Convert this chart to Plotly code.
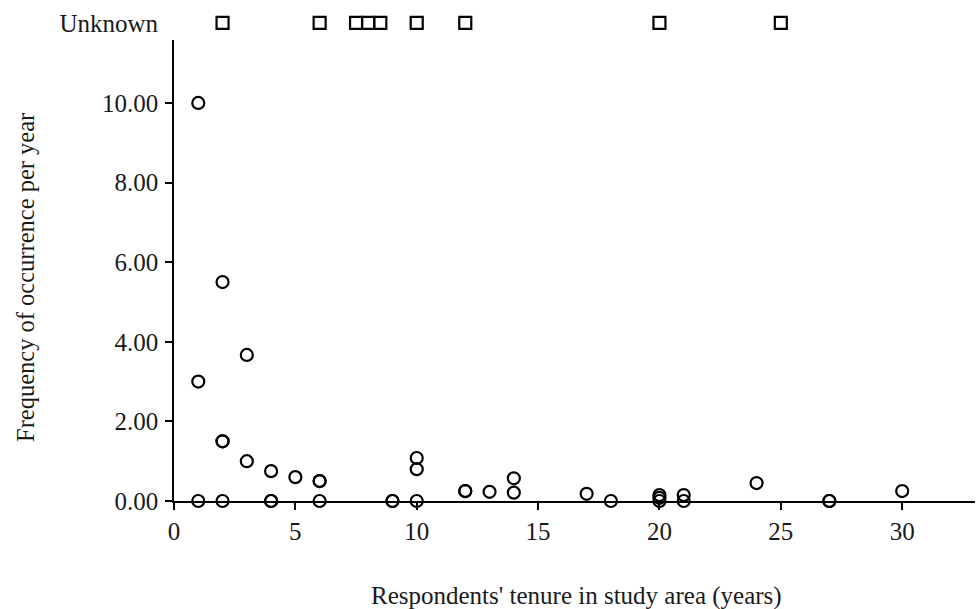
import plotly.graph_objects as go

# Known-tenure respondents
tenure_years = [1, 1, 1, 2, 2, 2, 2, 3, 3, 4, 4, 4, 5, 6, 6, 6,
                9, 9, 10, 10, 10, 12, 12, 13, 14, 14,
                17, 18, 20, 20, 20, 21, 21, 24, 27, 27, 30]
freq_per_year = [10.0, 3.0, 0.0, 5.5, 1.5, 1.5, 0.0, 3.67, 1.0, 0.75, 0.0, 0.0, 0.6, 0.5, 0.5, 0.0,
                 0.0, 0.0, 1.08, 0.8, 0.0, 0.25, 0.25, 0.23, 0.57, 0.21,
                 0.18, 0.0, 0.15, 0.08, 0.0, 0.15, 0.0, 0.45, 0.0, 0.0, 0.25]

# Respondents with unknown frequency
unknown_tenure = [2, 6, 7.5, 8, 8.5, 10, 12, 20, 25]

y_ticks = [0, 2, 4, 6, 8, 10]
y_ticktext = ["0.00", "2.00", "4.00", "6.00", "8.00", "10.00"]
x_ticks = [0, 5, 10, 15, 20, 25, 30]

FONT = "Liberation Serif, Times New Roman, serif"
TXT = "#1a1a1a"

fig = go.Figure()
fig.add_trace(go.Scatter(
    x=tenure_years, y=freq_per_year, mode="markers",
    marker=dict(symbol="circle-open", size=12, color="black", line=dict(width=2.2, color="black")),
    cliponaxis=False, showlegend=False, xaxis="x", yaxis="y"))
fig.add_trace(go.Scatter(
    x=unknown_tenure, y=[0] * len(unknown_tenure), mode="markers",
    marker=dict(symbol="square-open", size=12, color="black", line=dict(width=2.2, color="black")),
    cliponaxis=False, showlegend=False, xaxis="x", yaxis="y2"))

fig.update_layout(
    width=980, height=609,
    margin=dict(l=174, r=5, t=8, b=108),
    paper_bgcolor="white", plot_bgcolor="white",
    font=dict(family=FONT, size=25, color=TXT),
    xaxis=dict(range=[0, 33], tickvals=x_ticks, ticks="outside", ticklen=7, tickwidth=1.5,
               tickcolor="black", showline=True, linecolor="black", linewidth=1.5,
               showgrid=False, zeroline=False, anchor="y", automargin=False,
               tickfont=dict(size=25)),
    yaxis=dict(domain=[0, 0.935], range=[0, 11.58], tickvals=y_ticks, ticktext=y_ticktext,
               ticks="outside", ticklen=7, tickwidth=1.5, tickcolor="black",
               showline=True, linecolor="black", linewidth=1.5, showgrid=False, zeroline=False,
               automargin=False, tickfont=dict(size=25), ticklabelstandoff=2),
    yaxis2=dict(domain=[0.94, 1], range=[-1, 1], tickvals=[0], ticktext=["Unknown"],
                showline=False, showgrid=False, zeroline=False, ticks="outside", ticklen=7,
                tickcolor="rgba(0,0,0,0)", anchor="x", automargin=False,
                tickfont=dict(size=25), ticklabelstandoff=3),
    annotations=[
        dict(text="Respondents' tenure in study area (years)", xref="paper", yref="paper",
             x=(576 - 174) / 801, y=-(596 - 501) / 493, xanchor="center", yanchor="middle",
             showarrow=False, font=dict(size=25, color=TXT)),
        dict(text="Frequency of occurrence per year", xref="paper", yref="paper",
             x=-(174 - 25) / 801, y=(501 - 278) / 493, xanchor="center", yanchor="middle",
             textangle=-90, showarrow=False, font=dict(size=24.5, color=TXT)),
    ],
)

fig.write_html("out.html", config={"displayModeBar": False},
               post_script="document.body.style.margin='0';")
